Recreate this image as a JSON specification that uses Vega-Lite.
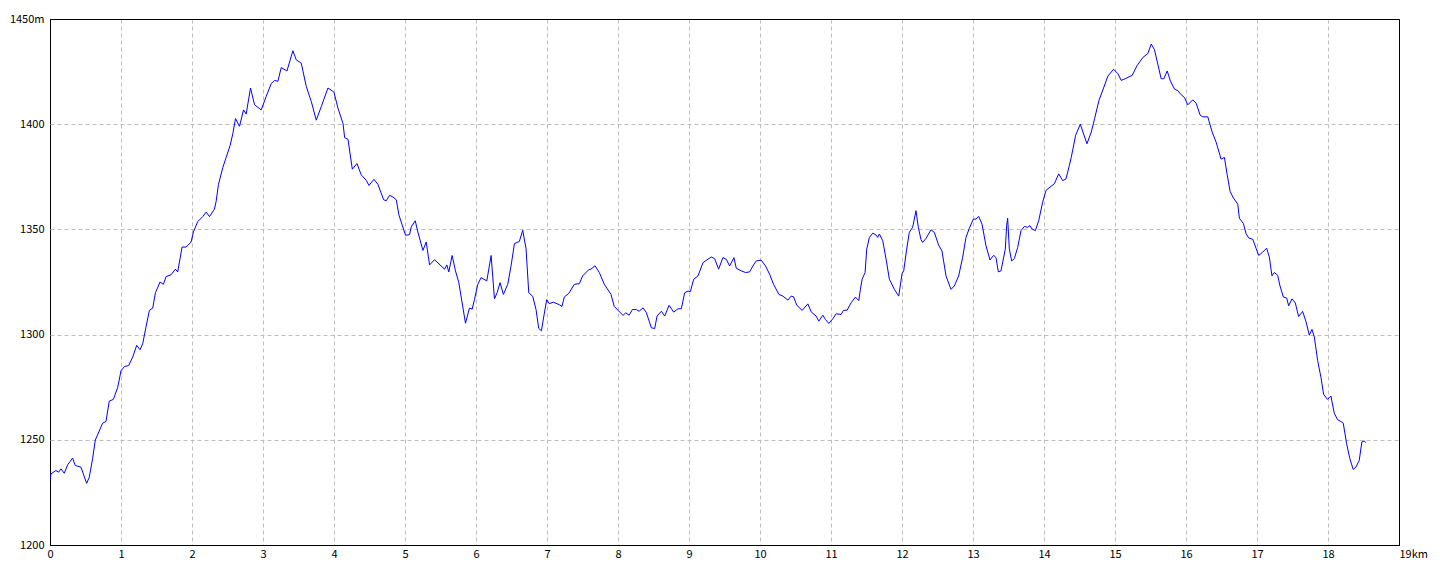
{
  "$schema": "https://vega.github.io/schema/vega-lite/v6.json",
  "width": 1349,
  "height": 526,
  "autosize": {"type": "none"},
  "padding": {"left": 50, "top": 19, "right": 41, "bottom": 31},
  "background": "white",
  "config": {
    "view": {"stroke": "#000000", "strokeWidth": 1},
    "axis": {"labelFont": "Liberation Sans Narrow, Noto Sans CJK JP", "labelFontSize": 11, "labelColor": "#000000"}
  },
  "data": {
    "values": [
      {"km": 0.000, "elev": 1230.5}, {"km": 0.013, "elev": 1233.8}, {"km": 0.083, "elev": 1235.4}, {"km": 0.121, "elev": 1234.6},
      {"km": 0.154, "elev": 1236.2}, {"km": 0.201, "elev": 1234.1}, {"km": 0.248, "elev": 1238.1}, {"km": 0.318, "elev": 1241.3},
      {"km": 0.356, "elev": 1237.8}, {"km": 0.436, "elev": 1237.0}, {"km": 0.516, "elev": 1229.3}, {"km": 0.553, "elev": 1232.2},
      {"km": 0.600, "elev": 1241.0}, {"km": 0.638, "elev": 1249.9}, {"km": 0.694, "elev": 1254.2}, {"km": 0.741, "elev": 1257.9},
      {"km": 0.788, "elev": 1258.7}, {"km": 0.835, "elev": 1268.4}, {"km": 0.892, "elev": 1269.2}, {"km": 0.953, "elev": 1274.8},
      {"km": 1.000, "elev": 1282.8}, {"km": 1.047, "elev": 1284.8}, {"km": 1.108, "elev": 1285.3}, {"km": 1.165, "elev": 1289.3},
      {"km": 1.221, "elev": 1294.9}, {"km": 1.268, "elev": 1292.8}, {"km": 1.306, "elev": 1295.7}, {"km": 1.353, "elev": 1303.8},
      {"km": 1.400, "elev": 1311.5}, {"km": 1.447, "elev": 1312.6}, {"km": 1.485, "elev": 1319.9}, {"km": 1.550, "elev": 1325.0},
      {"km": 1.597, "elev": 1323.9}, {"km": 1.635, "elev": 1327.6}, {"km": 1.705, "elev": 1328.4}, {"km": 1.766, "elev": 1331.1},
      {"km": 1.799, "elev": 1329.8}, {"km": 1.860, "elev": 1341.6}, {"km": 1.917, "elev": 1341.6}, {"km": 1.987, "elev": 1344.0},
      {"km": 2.020, "elev": 1348.8}, {"km": 2.081, "elev": 1353.7}, {"km": 2.152, "elev": 1356.1}, {"km": 2.199, "elev": 1358.2},
      {"km": 2.246, "elev": 1356.1}, {"km": 2.316, "elev": 1359.6}, {"km": 2.340, "elev": 1363.3}, {"km": 2.373, "elev": 1371.4},
      {"km": 2.434, "elev": 1379.4}, {"km": 2.481, "elev": 1384.2}, {"km": 2.537, "elev": 1389.9}, {"km": 2.575, "elev": 1395.5},
      {"km": 2.613, "elev": 1402.7}, {"km": 2.669, "elev": 1399.0}, {"km": 2.726, "elev": 1406.8}, {"km": 2.763, "elev": 1404.8},
      {"km": 2.824, "elev": 1417.2}, {"km": 2.881, "elev": 1409.2}, {"km": 2.975, "elev": 1406.8}, {"km": 3.045, "elev": 1413.2},
      {"km": 3.116, "elev": 1419.3}, {"km": 3.163, "elev": 1420.8}, {"km": 3.210, "elev": 1420.4}, {"km": 3.257, "elev": 1426.9},
      {"km": 3.337, "elev": 1425.3}, {"km": 3.421, "elev": 1434.9}, {"km": 3.468, "elev": 1430.6}, {"km": 3.539, "elev": 1429.0},
      {"km": 3.609, "elev": 1418.0}, {"km": 3.680, "elev": 1410.8}, {"km": 3.750, "elev": 1401.9}, {"km": 3.821, "elev": 1408.4},
      {"km": 3.915, "elev": 1417.2}, {"km": 3.985, "elev": 1415.6}, {"km": 4.000, "elev": 1415.1}, {"km": 4.056, "elev": 1407.6},
      {"km": 4.127, "elev": 1400.3}, {"km": 4.150, "elev": 1393.6}, {"km": 4.197, "elev": 1392.8}, {"km": 4.258, "elev": 1378.6},
      {"km": 4.323, "elev": 1381.3}, {"km": 4.384, "elev": 1375.9}, {"km": 4.455, "elev": 1373.3}, {"km": 4.492, "elev": 1370.9},
      {"km": 4.563, "elev": 1373.8}, {"km": 4.619, "elev": 1371.4}, {"km": 4.699, "elev": 1364.1}, {"km": 4.736, "elev": 1363.6},
      {"km": 4.783, "elev": 1366.2}, {"km": 4.830, "elev": 1365.4}, {"km": 4.877, "elev": 1364.1}, {"km": 4.914, "elev": 1356.9},
      {"km": 4.961, "elev": 1352.0}, {"km": 5.008, "elev": 1347.2}, {"km": 5.064, "elev": 1347.5}, {"km": 5.088, "elev": 1351.2},
      {"km": 5.144, "elev": 1354.1}, {"km": 5.181, "elev": 1348.8}, {"km": 5.252, "elev": 1340.0}, {"km": 5.299, "elev": 1344.0},
      {"km": 5.346, "elev": 1333.1}, {"km": 5.416, "elev": 1335.6}, {"km": 5.556, "elev": 1331.1}, {"km": 5.589, "elev": 1333.1},
      {"km": 5.617, "elev": 1329.8}, {"km": 5.664, "elev": 1337.6}, {"km": 5.711, "elev": 1330.3}, {"km": 5.758, "elev": 1324.7},
      {"km": 5.805, "elev": 1315.0}, {"km": 5.852, "elev": 1305.4}, {"km": 5.908, "elev": 1312.6}, {"km": 5.946, "elev": 1312.1},
      {"km": 5.978, "elev": 1316.6}, {"km": 6.025, "elev": 1323.9}, {"km": 6.072, "elev": 1327.1}, {"km": 6.152, "elev": 1325.5},
      {"km": 6.213, "elev": 1337.6}, {"km": 6.260, "elev": 1317.0}, {"km": 6.297, "elev": 1319.9}, {"km": 6.339, "elev": 1324.7},
      {"km": 6.386, "elev": 1319.1}, {"km": 6.447, "elev": 1323.9}, {"km": 6.494, "elev": 1332.7}, {"km": 6.541, "elev": 1343.2},
      {"km": 6.611, "elev": 1344.3}, {"km": 6.658, "elev": 1349.6}, {"km": 6.705, "elev": 1340.8}, {"km": 6.743, "elev": 1319.9},
      {"km": 6.799, "elev": 1318.2}, {"km": 6.846, "elev": 1311.8}, {"km": 6.883, "elev": 1303.0}, {"km": 6.921, "elev": 1301.8},
      {"km": 6.963, "elev": 1310.2}, {"km": 6.996, "elev": 1316.6}, {"km": 7.033, "elev": 1314.7}, {"km": 7.090, "elev": 1315.4},
      {"km": 7.174, "elev": 1314.2}, {"km": 7.211, "elev": 1313.4}, {"km": 7.244, "elev": 1317.9}, {"km": 7.305, "elev": 1319.5},
      {"km": 7.385, "elev": 1323.9}, {"km": 7.455, "elev": 1324.2}, {"km": 7.502, "elev": 1327.9}, {"km": 7.586, "elev": 1330.8},
      {"km": 7.619, "elev": 1331.1}, {"km": 7.676, "elev": 1332.7}, {"km": 7.737, "elev": 1329.5}, {"km": 7.807, "elev": 1323.9},
      {"km": 7.901, "elev": 1319.1}, {"km": 7.947, "elev": 1313.4}, {"km": 8.025, "elev": 1310.7}, {"km": 8.072, "elev": 1309.1},
      {"km": 8.109, "elev": 1310.4}, {"km": 8.156, "elev": 1309.2}, {"km": 8.203, "elev": 1311.9}, {"km": 8.259, "elev": 1311.9},
      {"km": 8.297, "elev": 1311.1}, {"km": 8.353, "elev": 1312.7}, {"km": 8.400, "elev": 1310.4}, {"km": 8.470, "elev": 1303.2},
      {"km": 8.517, "elev": 1302.9}, {"km": 8.550, "elev": 1308.8}, {"km": 8.611, "elev": 1311.1}, {"km": 8.658, "elev": 1308.8},
      {"km": 8.719, "elev": 1313.9}, {"km": 8.784, "elev": 1310.7}, {"km": 8.845, "elev": 1312.3}, {"km": 8.892, "elev": 1312.3},
      {"km": 8.939, "elev": 1319.9}, {"km": 8.986, "elev": 1320.7}, {"km": 9.019, "elev": 1320.4}, {"km": 9.066, "elev": 1326.3},
      {"km": 9.127, "elev": 1327.9}, {"km": 9.197, "elev": 1334.2}, {"km": 9.253, "elev": 1335.5}, {"km": 9.314, "elev": 1336.9},
      {"km": 9.361, "elev": 1336.1}, {"km": 9.417, "elev": 1331.1}, {"km": 9.478, "elev": 1336.6}, {"km": 9.525, "elev": 1335.8},
      {"km": 9.572, "elev": 1332.6}, {"km": 9.633, "elev": 1336.6}, {"km": 9.666, "elev": 1331.5}, {"km": 9.736, "elev": 1330.3},
      {"km": 9.797, "elev": 1329.5}, {"km": 9.853, "elev": 1329.8}, {"km": 9.900, "elev": 1332.6}, {"km": 9.947, "elev": 1335.0},
      {"km": 10.017, "elev": 1335.4}, {"km": 10.078, "elev": 1332.6}, {"km": 10.135, "elev": 1328.7}, {"km": 10.191, "elev": 1323.9},
      {"km": 10.266, "elev": 1319.1}, {"km": 10.322, "elev": 1318.3}, {"km": 10.392, "elev": 1316.4}, {"km": 10.439, "elev": 1318.3},
      {"km": 10.472, "elev": 1318.0}, {"km": 10.519, "elev": 1313.9}, {"km": 10.594, "elev": 1311.5}, {"km": 10.674, "elev": 1314.6},
      {"km": 10.721, "elev": 1310.8}, {"km": 10.791, "elev": 1308.8}, {"km": 10.828, "elev": 1306.4}, {"km": 10.885, "elev": 1309.2},
      {"km": 10.922, "elev": 1307.2}, {"km": 10.969, "elev": 1305.3}, {"km": 11.025, "elev": 1307.5}, {"km": 11.072, "elev": 1309.9},
      {"km": 11.143, "elev": 1309.6}, {"km": 11.175, "elev": 1311.5}, {"km": 11.227, "elev": 1311.6}, {"km": 11.283, "elev": 1315.1},
      {"km": 11.344, "elev": 1317.8}, {"km": 11.391, "elev": 1316.2}, {"km": 11.414, "elev": 1321.5}, {"km": 11.438, "elev": 1326.3},
      {"km": 11.480, "elev": 1329.5}, {"km": 11.503, "elev": 1340.6}, {"km": 11.541, "elev": 1346.2}, {"km": 11.588, "elev": 1348.2},
      {"km": 11.635, "elev": 1347.3}, {"km": 11.658, "elev": 1346.2}, {"km": 11.682, "elev": 1347.8}, {"km": 11.729, "elev": 1344.6},
      {"km": 11.776, "elev": 1335.8}, {"km": 11.822, "elev": 1326.3}, {"km": 11.893, "elev": 1321.5}, {"km": 11.954, "elev": 1318.3},
      {"km": 12.001, "elev": 1329.1}, {"km": 12.024, "elev": 1330.3}, {"km": 12.066, "elev": 1340.6}, {"km": 12.103, "elev": 1348.6},
      {"km": 12.150, "elev": 1351.0}, {"km": 12.197, "elev": 1358.9}, {"km": 12.230, "elev": 1351.0}, {"km": 12.268, "elev": 1345.1},
      {"km": 12.291, "elev": 1343.8}, {"km": 12.338, "elev": 1345.7}, {"km": 12.408, "elev": 1349.8}, {"km": 12.455, "elev": 1348.6},
      {"km": 12.516, "elev": 1342.5}, {"km": 12.563, "elev": 1339.8}, {"km": 12.620, "elev": 1327.9}, {"km": 12.690, "elev": 1321.5},
      {"km": 12.737, "elev": 1323.1}, {"km": 12.798, "elev": 1327.9}, {"km": 12.854, "elev": 1336.6}, {"km": 12.901, "elev": 1346.2},
      {"km": 12.948, "elev": 1350.5}, {"km": 13.005, "elev": 1354.9}, {"km": 13.042, "elev": 1354.9}, {"km": 13.080, "elev": 1356.2},
      {"km": 13.127, "elev": 1352.5}, {"km": 13.183, "elev": 1342.2}, {"km": 13.239, "elev": 1335.5}, {"km": 13.291, "elev": 1337.7},
      {"km": 13.324, "elev": 1336.6}, {"km": 13.357, "elev": 1329.8}, {"km": 13.394, "elev": 1330.3}, {"km": 13.455, "elev": 1340.6},
      {"km": 13.474, "elev": 1351.8}, {"km": 13.488, "elev": 1355.3}, {"km": 13.512, "elev": 1340.6}, {"km": 13.545, "elev": 1335.0},
      {"km": 13.582, "elev": 1336.1}, {"km": 13.629, "elev": 1341.4}, {"km": 13.676, "elev": 1349.4}, {"km": 13.723, "elev": 1351.4},
      {"km": 13.770, "elev": 1351.0}, {"km": 13.803, "elev": 1351.8}, {"km": 13.831, "elev": 1350.2}, {"km": 13.878, "elev": 1349.4},
      {"km": 13.925, "elev": 1354.1}, {"km": 13.981, "elev": 1362.9}, {"km": 14.028, "elev": 1368.5}, {"km": 14.099, "elev": 1370.5},
      {"km": 14.146, "elev": 1371.7}, {"km": 14.207, "elev": 1376.4}, {"km": 14.263, "elev": 1373.2}, {"km": 14.310, "elev": 1374.0},
      {"km": 14.357, "elev": 1380.4}, {"km": 14.384, "elev": 1384.2}, {"km": 14.445, "elev": 1394.7}, {"km": 14.511, "elev": 1400.0},
      {"km": 14.605, "elev": 1390.7}, {"km": 14.666, "elev": 1396.3}, {"km": 14.713, "elev": 1402.7}, {"km": 14.774, "elev": 1411.3},
      {"km": 14.839, "elev": 1417.2}, {"km": 14.900, "elev": 1422.9}, {"km": 14.980, "elev": 1426.1}, {"km": 15.041, "elev": 1424.0},
      {"km": 15.088, "elev": 1420.8}, {"km": 15.149, "elev": 1421.7}, {"km": 15.242, "elev": 1423.2}, {"km": 15.308, "elev": 1427.7},
      {"km": 15.392, "elev": 1431.7}, {"km": 15.463, "elev": 1433.6}, {"km": 15.510, "elev": 1438.1}, {"km": 15.556, "elev": 1435.4},
      {"km": 15.603, "elev": 1428.5}, {"km": 15.650, "elev": 1421.6}, {"km": 15.688, "elev": 1421.6}, {"km": 15.735, "elev": 1425.3},
      {"km": 15.782, "elev": 1420.4}, {"km": 15.838, "elev": 1416.7}, {"km": 15.885, "elev": 1415.9}, {"km": 15.932, "elev": 1414.0},
      {"km": 15.978, "elev": 1412.7}, {"km": 16.025, "elev": 1409.2}, {"km": 16.096, "elev": 1411.6}, {"km": 16.143, "elev": 1410.0},
      {"km": 16.199, "elev": 1404.3}, {"km": 16.236, "elev": 1403.5}, {"km": 16.307, "elev": 1403.5}, {"km": 16.368, "elev": 1396.3},
      {"km": 16.424, "elev": 1391.5}, {"km": 16.494, "elev": 1383.4}, {"km": 16.541, "elev": 1384.2}, {"km": 16.579, "elev": 1376.2},
      {"km": 16.621, "elev": 1368.1}, {"km": 16.668, "elev": 1364.9}, {"km": 16.729, "elev": 1362.0}, {"km": 16.752, "elev": 1355.3},
      {"km": 16.808, "elev": 1352.8}, {"km": 16.846, "elev": 1348.0}, {"km": 16.883, "elev": 1345.9}, {"km": 16.940, "elev": 1345.3},
      {"km": 16.986, "elev": 1341.1}, {"km": 17.024, "elev": 1337.6}, {"km": 17.080, "elev": 1339.2}, {"km": 17.136, "elev": 1341.1},
      {"km": 17.174, "elev": 1336.8}, {"km": 17.211, "elev": 1327.9}, {"km": 17.244, "elev": 1329.5}, {"km": 17.291, "elev": 1328.2},
      {"km": 17.324, "elev": 1323.1}, {"km": 17.371, "elev": 1317.9}, {"km": 17.418, "elev": 1317.4}, {"km": 17.446, "elev": 1313.7},
      {"km": 17.493, "elev": 1317.0}, {"km": 17.540, "elev": 1315.0}, {"km": 17.586, "elev": 1308.6}, {"km": 17.643, "elev": 1311.0},
      {"km": 17.690, "elev": 1306.2}, {"km": 17.737, "elev": 1299.7}, {"km": 17.774, "elev": 1302.5}, {"km": 17.807, "elev": 1298.9},
      {"km": 17.854, "elev": 1287.7}, {"km": 17.901, "elev": 1279.6}, {"km": 17.938, "elev": 1271.6}, {"km": 17.994, "elev": 1269.2},
      {"km": 18.041, "elev": 1270.8}, {"km": 18.088, "elev": 1262.7}, {"km": 18.135, "elev": 1259.5}, {"km": 18.182, "elev": 1258.7},
      {"km": 18.215, "elev": 1257.9}, {"km": 18.262, "elev": 1248.2}, {"km": 18.308, "elev": 1241.0}, {"km": 18.355, "elev": 1235.9},
      {"km": 18.393, "elev": 1237.0}, {"km": 18.440, "elev": 1240.2}, {"km": 18.477, "elev": 1249.0}, {"km": 18.510, "elev": 1249.4},
      {"km": 18.534, "elev": 1248.7}
    ]
  },
  "mark": {"type": "line", "color": "#0000ff", "strokeWidth": 1, "clip": true},
  "encoding": {
    "x": {
      "field": "km",
      "type": "quantitative",
      "scale": {"domain": [0, 19], "nice": false, "zero": false},
      "axis": {
        "title": null,
        "values": [0, 1, 2, 3, 4, 5, 6, 7, 8, 9, 10, 11, 12, 13, 14, 15, 16, 17, 18, 19],
        "format": "d",
        "grid": true,
        "gridColor": {"condition": {"test": "datum.value == 0 || datum.value == 19", "value": "#000000"}, "value": "#bdbdbd"},
        "gridDash": {"condition": {"test": "datum.value == 0 || datum.value == 19", "value": []}, "value": [4, 3]},
        "gridWidth": 1,
        "domain": false,
        "ticks": false,
        "labelPadding": 3,
        "labelFlush": false,
        "labelOverlap": false,
        "labelBaseline": "top",
        "labelExpr": "datum.value == 19 ? '19km' : datum.label",
        "labelAlign": {"condition": {"test": "datum.value == 19", "value": "left"}, "value": "center"}
      }
    },
    "y": {
      "field": "elev",
      "type": "quantitative",
      "scale": {"domain": [1200, 1450], "nice": false, "zero": false},
      "axis": {
        "title": null,
        "values": [1200, 1250, 1300, 1350, 1400, 1450],
        "format": "d",
        "grid": true,
        "gridColor": {"condition": {"test": "datum.value == 1200 || datum.value == 1450", "value": "#000000"}, "value": "#bdbdbd"},
        "gridDash": {"condition": {"test": "datum.value == 1200 || datum.value == 1450", "value": []}, "value": [4, 3]},
        "gridWidth": 1,
        "domain": false,
        "ticks": false,
        "labelPadding": 6,
        "labelFlush": false,
        "labelOverlap": false,
        "labelBaseline": "middle",
        "labelAlign": "right",
        "labelExpr": "datum.value == 1450 ? '1450m' : datum.label"
      }
    }
  }
}
